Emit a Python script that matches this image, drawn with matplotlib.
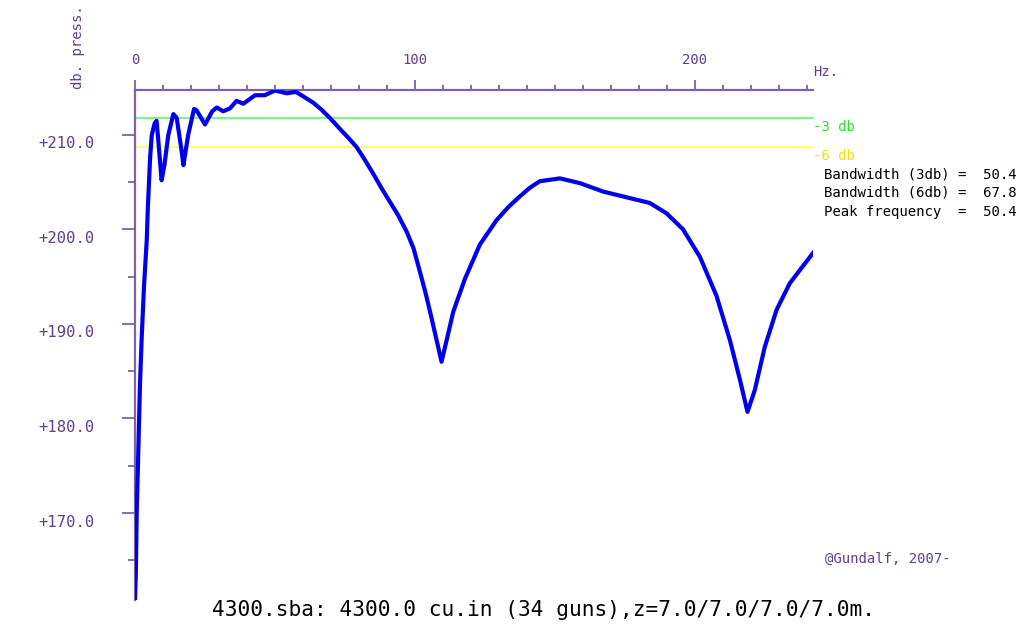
import matplotlib
matplotlib.use("Agg")
import matplotlib.pyplot as plt
from matplotlib.ticker import MultipleLocator, NullFormatter
from matplotlib.transforms import blended_transform_factory

# ---- data ----
freq_hz = [0.0, 0.3, 0.6, 0.95, 1.3, 1.8, 2.4, 3.2, 4.2, 4.6, 5.4, 6.0, 7.0, 7.7,
           8.3, 9.5, 10.5, 11.9, 13.7, 14.9, 16.7, 17.3, 19.0, 21.1, 22.0, 25.0,
           27.6, 29.2, 31.5, 33.9, 36.3, 38.7, 42.9, 46.4, 50.0, 54.2, 57.5, 60.5,
           63.7, 66.5, 69.6, 73.0, 76.5, 79.2, 81.8, 85.1, 88.0, 91.1, 94.0, 97.0,
           99.5, 101.8, 103.7, 105.4, 107.5, 109.5, 111.5, 113.7, 117.9, 123.2,
           129.2, 133.5, 137.5, 141.0, 144.6, 151.8, 158.9, 167.3, 175.6, 183.9,
           189.9, 195.8, 201.8, 207.7, 212.5, 216.1, 218.8, 221.4, 225.0, 229.2,
           233.9, 237.5, 242.2]
db_press = [160.8, 163.6, 170.0, 173.8, 178.0, 183.8, 188.6, 193.9, 198.9, 202.4,
            207.6, 210.0, 211.2, 211.5, 209.5, 205.2, 206.8, 210.0, 212.2, 211.8,
            208.2, 206.8, 210.0, 212.75, 212.6, 211.1, 212.5, 212.9, 212.5, 212.8,
            213.6, 213.3, 214.2, 214.2, 214.7, 214.4, 214.55, 214.0, 213.4, 212.7,
            211.8, 210.7, 209.6, 208.7, 207.5, 205.9, 204.4, 202.9, 201.5, 199.8,
            198.0, 195.5, 193.4, 191.3, 188.6, 186.0, 188.5, 191.3, 194.8, 198.4,
            201.0, 202.4, 203.5, 204.4, 205.1, 205.4, 204.9, 204.0, 203.4, 202.8,
            201.7, 200.0, 197.1, 193.0, 188.3, 184.1, 180.7, 183.0, 187.6, 191.5,
            194.3, 195.7, 197.5]
peak_db = 214.75
x_tick_labels = [0, 100, 200]
y_tick_labels = [170.0, 180.0, 190.0, 200.0, 210.0]
info_lines = ["Bandwidth (3db) =  50.4",
              "Bandwidth (6db) =  67.8",
              "Peak frequency  =  50.4"]
title = "4300.sba: 4300.0 cu.in (34 guns),z=7.0/7.0/7.0/7.0m."

PURPLE = "#5e3f8f"
AXIS = "#7d62a8"
MONO = "DejaVu Sans Mono"

fig = plt.figure(figsize=(10.27, 6.25), dpi=100)
W, H = 1027, 625
left_px, right_px, top_px, bot_px = 135, 813, 90, 600
ax = fig.add_axes([left_px / W, 1 - bot_px / H, (right_px - left_px) / W, (bot_px - top_px) / H])
ax.set_xlim(0, 242.2)
ax.set_ylim(160.8, peak_db)

ax.axhline(peak_db - 3, color="#88f088", lw=1.6, zorder=1)
ax.axhline(peak_db - 6, color="#ffff77", lw=1.6, zorder=1)
ax.plot(freq_hz, db_press, color="#0000ee", lw=3.0, zorder=3, solid_joinstyle="round")

for s in ["bottom", "right"]:
    ax.spines[s].set_visible(False)
for s in ["top", "left"]:
    ax.spines[s].set_color(AXIS)
    ax.spines[s].set_linewidth(1.6)
ax.spines["left"].set_zorder(2)

ax.xaxis.tick_top()
ax.xaxis.set_major_locator(MultipleLocator(100))
ax.xaxis.set_minor_locator(MultipleLocator(10))
ax.yaxis.set_major_locator(MultipleLocator(10))
ax.yaxis.set_minor_locator(MultipleLocator(5))
ax.xaxis.set_major_formatter(NullFormatter())
ax.yaxis.set_major_formatter(NullFormatter())
ax.tick_params(axis="x", which="major", direction="out", length=7.5, width=1.3, color=AXIS)
ax.tick_params(axis="x", which="minor", direction="out", length=3.6, width=1.3, color=AXIS)
ax.tick_params(axis="y", which="major", direction="out", length=9.5, width=1.3, color=AXIS)
ax.tick_params(axis="y", which="minor", direction="out", length=5.0, width=1.3, color=AXIS)

# x labels (top)
xt = ax.get_xaxis_transform()
for v in x_tick_labels:
    ax.text(v, 1 + 30 / 510, f"{v}", transform=xt, ha="center", va="center",
            fontsize=10, family=MONO, color=PURPLE)
ax.text(1.0, 1 + 18 / 510, "Hz.", transform=ax.transAxes, ha="left", va="center",
        fontsize=10, family=MONO, color=PURPLE)

# y labels (left)
yt = blended_transform_factory(fig.transFigure, ax.transData)
for v in y_tick_labels:
    ax.text(38 / W, v - 0.95, f"+{v:.1f}", transform=yt, ha="left", va="center",
            fontsize=11.2, family=MONO, color=PURPLE)
fig.text(78 / W, 1 - 47 / H, "db. press.", rotation=90, ha="center", va="center",
         fontsize=10, family=MONO, color=PURPLE)

# level annotations
at = blended_transform_factory(ax.transAxes, ax.transData)
ax.text(1.0, peak_db - 3 - 0.95, "-3 db", transform=at, ha="left", va="center",
        fontsize=10, family=MONO, color="#33dd33")
ax.text(1.0, peak_db - 6 - 0.95, "-6 db", transform=at, ha="left", va="center",
        fontsize=10, family=MONO, color="#e8e800")
for i, line in enumerate(info_lines):
    fig.text(824 / W, 1 - (174 + 19 * i) / H, line, ha="left", va="center",
             fontsize=10.1, family=MONO, color="black")

fig.text(825 / W, 1 - 559 / H, "@Gundalf, 2007-", ha="left", va="center",
         fontsize=10, family=MONO, color=PURPLE)
fig.text(544 / W, 1 - 610 / H, title, ha="center", va="center",
         fontsize=15.2, family=MONO, color="black")

fig.savefig("out.png", dpi=100)
